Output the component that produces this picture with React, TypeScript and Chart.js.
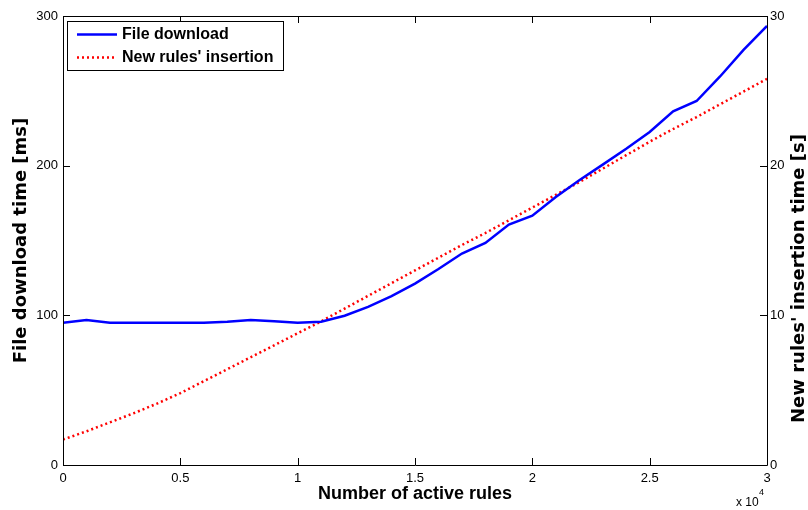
import { useEffect, useRef } from "react";
import { Chart, registerables } from "chart.js";

Chart.register(...registerables);

const activeRules = [
  0, 1000, 2000, 3000, 4000, 5000, 6000, 7000, 8000, 9000, 10000, 11000, 12000, 13000, 14000, 15000,
  16000, 17000, 18000, 19000, 20000, 21000, 22000, 23000, 24000, 25000, 26000, 27000, 28000, 29000, 30000,
];
const downloadMs = [
  95, 96.8, 95, 95, 95, 95, 95, 95.7, 96.8, 96.1, 95, 95.7, 99.7, 105.7, 112.8, 121.2,
  131, 141.3, 148.4, 160.6, 166.6, 179, 190.2, 200.7, 211.3, 222.5, 236.3, 243.2, 259.6, 277.4, 293.4,
];
const insertionS = [
  1.7, 2.25, 2.85, 3.45, 4.1, 4.8, 5.6, 6.4, 7.2, 8.0, 8.8, 9.6, 10.45, 11.3, 12.15, 13.0,
  13.85, 14.7, 15.5, 16.35, 17.2, 18.05, 18.9, 19.8, 20.7, 21.6, 22.45, 23.25, 24.1, 24.95, 25.8,
];
const seriesLabels = ["File download", "New rules' insertion"];
const xTickStep = 5000;
const xTickScale = 10000;
const leftTickStep = 100;
const rightTickStep = 10;

const SANS = "'Liberation Sans', Arial, sans-serif";
const WIDE = "'DejaVu Sans', Verdana, sans-serif";

const framePlugin = {
  id: "matlabFrame",
  afterDraw(chart: any) {
    const { ctx, chartArea } = chart;
    const { left, right, top, bottom } = chartArea;
    const x = chart.scales.x;
    const y = chart.scales.y;
    const y2 = chart.scales.y2;
    const tl = 7;
    ctx.save();
    ctx.strokeStyle = "#000";
    ctx.lineWidth = 1;
    ctx.beginPath();
    ctx.rect(Math.round(left) + 0.5, Math.round(top) + 0.5, Math.round(right - left), Math.round(bottom - top));
    ctx.stroke();
    ctx.beginPath();
    x.ticks.forEach((t: any) => {
      const px = Math.round(x.getPixelForValue(t.value)) + 0.5;
      ctx.moveTo(px, bottom);
      ctx.lineTo(px, bottom - tl);
      ctx.moveTo(px, top);
      ctx.lineTo(px, top + tl);
    });
    y.ticks.forEach((t: any) => {
      const py = Math.round(y.getPixelForValue(t.value)) + 0.5;
      ctx.moveTo(left, py);
      ctx.lineTo(left + tl, py);
    });
    y2.ticks.forEach((t: any) => {
      const py = Math.round(y2.getPixelForValue(t.value)) + 0.5;
      ctx.moveTo(right, py);
      ctx.lineTo(right - tl, py);
    });
    ctx.stroke();

    // right axis title, reading bottom to top
    ctx.save();
    ctx.translate(799, (top + bottom) / 2 + 38);
    ctx.rotate(-Math.PI / 2);
    ctx.fillStyle = "#000";
    ctx.font = `bold 18px ${WIDE}`;
    ctx.textAlign = "center";
    ctx.textBaseline = "middle";
    ctx.fillText("New rules' insertion time [s]", 0, 0);
    ctx.restore();

    // exponent label
    ctx.fillStyle = "#000";
    ctx.textAlign = "left";
    ctx.textBaseline = "alphabetic";
    ctx.font = `12px ${SANS}`;
    ctx.fillText("x 10", 736, 506);
    ctx.font = `9px ${SANS}`;
    ctx.fillText("4", 759, 495);

    // legend box
    const lx = 67.5, ly = 21.5, lw = 216, lh = 49;
    ctx.fillStyle = "#fff";
    ctx.fillRect(lx, ly, lw, lh);
    ctx.strokeStyle = "#000";
    ctx.lineWidth = 1;
    ctx.strokeRect(lx, ly, lw, lh);
    const ds = chart.data.datasets;
    const rows = [34.5, 57.5];
    ds.forEach((d: any, i: number) => {
      ctx.beginPath();
      ctx.strokeStyle = d.borderColor;
      ctx.lineWidth = d.borderWidth;
      ctx.setLineDash(d.borderDash || []);
      ctx.moveTo(77, rows[i]);
      ctx.lineTo(117, rows[i]);
      ctx.stroke();
      ctx.setLineDash([]);
      ctx.fillStyle = "#000";
      ctx.font = `bold 16px ${SANS}`;
      ctx.textBaseline = "middle";
      ctx.fillText(d.label, 122, rows[i] + 0.5);
    });
    ctx.restore();
  },
};

export default function App() {
  const ref = useRef<HTMLCanvasElement | null>(null);
  useEffect(() => {
    document.body.style.margin = "0";
    const canvas = ref.current;
    if (!canvas) return;
    const chart = new Chart(canvas, {
      type: "line",
      data: {
        datasets: [
          {
            label: seriesLabels[0],
            data: activeRules.map((x, i) => ({ x, y: downloadMs[i] })),
            borderColor: "#0000FF",
            backgroundColor: "#0000FF",
            borderWidth: 2.5,
            pointRadius: 0,
            tension: 0,
            yAxisID: "y",
          },
          {
            label: seriesLabels[1],
            data: activeRules.map((x, i) => ({ x, y: insertionS[i] })),
            borderColor: "#FF0000",
            backgroundColor: "#FF0000",
            borderWidth: 2.5,
            borderDash: [2, 3],
            pointRadius: 0,
            tension: 0,
            yAxisID: "y2",
          },
        ],
      },
      options: {
        animation: false,
        responsive: true,
        maintainAspectRatio: false,
        layout: { padding: { top: 16, left: 0, right: 0, bottom: 0 } },
        plugins: { legend: { display: false }, tooltip: { enabled: false } },
        scales: {
          x: {
            type: "linear",
            min: 0,
            max: 30000,
            grid: { display: false, drawTicks: false },
            border: { display: false },
            ticks: {
              stepSize: xTickStep,
              padding: 6,
              color: "#000",
              font: { family: SANS, size: 13 },
              callback: (v: any) => String(Number(v) / xTickScale),
              maxRotation: 0,
            },
            title: {
              display: true,
              text: "Number of active rules",
              color: "#000",
              font: { family: SANS, size: 18, weight: "bold", lineHeight: 1 },
              padding: { top: 0, bottom: 7 },
            },
            afterFit: (s: any) => {
              s.height = 45;
            },
          },
          y: {
            position: "left",
            min: 0,
            max: 300,
            grid: { display: false, drawTicks: false },
            border: { display: false },
            ticks: {
              stepSize: leftTickStep,
              padding: 5,
              color: "#000",
              font: { family: SANS, size: 13 },
            },
            title: {
              display: true,
              text: "File download time [ms]",
              color: "#000",
              font: { family: WIDE, size: 18, weight: "bold", lineHeight: 1 },
              padding: { top: 12, bottom: 0 },
            },
            afterFit: (s: any) => {
              s.width = 63;
            },
          },
          y2: {
            position: "right",
            min: 0,
            max: 30,
            grid: { display: false, drawTicks: false },
            border: { display: false },
            ticks: {
              stepSize: rightTickStep,
              padding: 3,
              color: "#000",
              font: { family: SANS, size: 13 },
            },
            title: { display: false },
            afterFit: (s: any) => {
              s.width = 41;
            },
          },
        },
      },
      plugins: [framePlugin],
    });
    return () => chart.destroy();
  }, []);
  return (
    <div style={{ position: "absolute", left: 0, top: 0, width: 808, height: 510 }}>
      <canvas ref={ref} />
    </div>
  );
}
